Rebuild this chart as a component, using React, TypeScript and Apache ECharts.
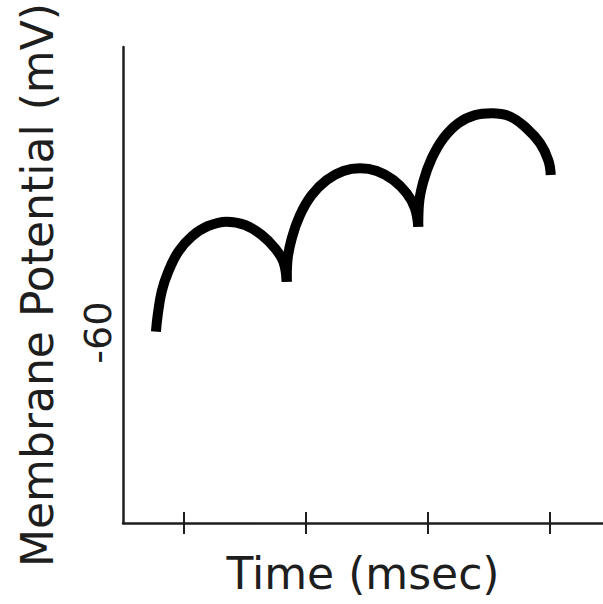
import React, { useEffect, useRef } from "react";
import * as echarts from "echarts";

// Time (msec) and membrane potential (mV), one array per arc
const seg1Time = [2.70, 2.84, 3.17, 3.71, 4.53, 5.63, 6.99, 8.50, 10.0, 11.37, 12.46, 13.14, 13.42];
const seg1Mv = [-59.9, -58.2, -55.7, -53.6, -51.5, -49.9, -48.8, -48.35, -48.7, -49.75, -51.15, -52.55, -54.65];
const seg2Time = [13.42, 13.47, 13.83, 14.51, 15.47, 16.70, 18.06, 19.43, 20.80, 22.16, 23.25, 23.93, 24.2];
const seg2Mv = [-54.65, -52.55, -50.1, -47.65, -45.55, -43.97, -43.03, -42.74, -43.03, -43.97, -45.37, -46.94, -48.88];
const seg3Time = [24.2, 24.25, 24.61, 25.30, 26.25, 27.48, 28.85, 30.22, 31.72, 33.09, 34.18, 34.86, 35.06];
const seg3Mv = [-48.88, -46.6, -44.15, -41.7, -39.6, -38.0, -37.15, -36.96, -37.3, -38.55, -40.1, -41.9, -43.45];

const xTicks = [5, 15, 25, 35];
const yLabels = [-60];

const xTitle = "Time (msec)";
const yTitle = "Membrane Potential (mV)";

const INK = "#1e1e1e";
const FONT = "DejaVu Sans";

function zip(xs: number[], ys: number[]) {
  return xs.map((x, i) => [x, ys[i]]);
}

export default function App() {
  const ref = useRef<HTMLDivElement>(null);
  useEffect(() => {
    if (!ref.current) return;
    const chart = echarts.init(ref.current, undefined, { renderer: "svg" });
    const lineSeries = (data: number[][]) => ({
      type: "line",
      data,
      smooth: 0.4,
      showSymbol: false,
      symbol: "none",
      xAxisIndex: 0,
      yAxisIndex: 0,
      lineStyle: { color: "#000", width: 10, cap: "butt", join: "round" },
      silent: true,
    });
    chart.setOption({
      animation: false,
      backgroundColor: "#fff",
      grid: { left: 123, right: 0, top: 47, bottom: 81, containLabel: false },
      xAxis: [
        {
          type: "value",
          min: 0,
          max: 39.34,
          position: "bottom",
          name: xTitle,
          nameLocation: "middle",
          nameGap: 28,
          nameTextStyle: { fontFamily: FONT, fontSize: 44, color: INK },
          axisLine: { show: true, lineStyle: { color: INK, width: 2.5 } },
          axisTick: {
            show: true,
            customValues: xTicks,
            length: 11,
            lineStyle: { color: INK, width: 2 },
          },
          axisLabel: { show: false },
          splitLine: { show: false },
        },
        {
          type: "value",
          min: 0,
          max: 39.34,
          position: "bottom",
          axisLine: { show: false },
          axisTick: {
            show: true,
            inside: true,
            customValues: xTicks,
            length: 11,
            lineStyle: { color: INK, width: 2 },
          },
          axisLabel: { show: false },
          splitLine: { show: false },
        },
      ],
      yAxis: {
        type: "value",
        min: -80,
        max: -30,
        name: yTitle,
        nameLocation: "middle",
        nameRotate: 90,
        nameGap: 64,
        nameTextStyle: { fontFamily: FONT, fontSize: 44, color: INK },
        axisLine: { show: true, lineStyle: { color: INK, width: 2.5 } },
        axisTick: { show: false },
        axisLabel: {
          show: true,
          customValues: yLabels,
          rotate: 90,
          margin: 6,
          fontFamily: FONT,
          fontSize: 38,
          color: INK,
        },
        splitLine: { show: false },
      },
      series: [
        lineSeries(zip(seg1Time, seg1Mv)),
        lineSeries(zip(seg2Time, seg2Mv)),
        lineSeries(zip(seg3Time, seg3Mv)),
      ],
    });
    return () => chart.dispose();
  }, []);
  return (
    <div
      ref={ref}
      style={{ width: 603, height: 604, position: "absolute", left: 0, top: 0 }}
    />
  );
}
